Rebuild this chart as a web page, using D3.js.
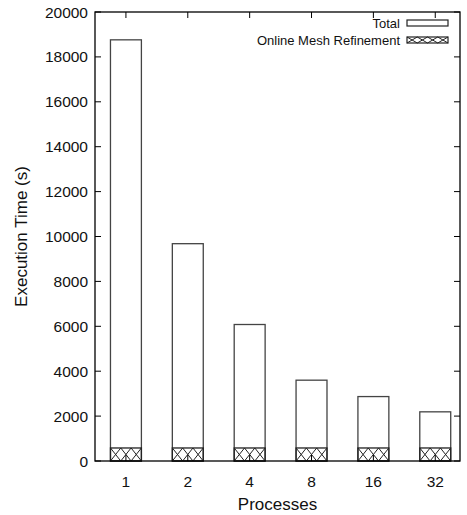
<!DOCTYPE html>
<html>
<head>
<meta charset="utf-8">
<script src="https://cdn.jsdelivr.net/npm/d3@7"></script>
<style>
  body { margin: 0; background: #fff; }
  text { font-family: "Liberation Sans", Arial, sans-serif; fill: #111; }
</style>
</head>
<body>
<div id="chart"></div>
<script>
// data
const processes = ["1", "2", "4", "8", "16", "32"];
const totalTime = [18760, 9680, 6080, 3600, 2870, 2190];
const refineTime = [580, 580, 580, 580, 580, 580];
const yTicks = [0, 2000, 4000, 6000, 8000, 10000, 12000, 14000, 16000, 18000, 20000];

const width = 467, height = 515;
const margin = {left: 95, right: 7, top: 12, bottom: 54};

const svg = d3.select("#chart").append("svg")
  .attr("width", width)
  .attr("height", height);

const x = d3.scaleLinear()
  .domain([-0.5, 5.4])
  .range([margin.left, width - margin.right]);

const y = d3.scaleLinear()
  .domain([0, 20000])
  .range([height - margin.bottom, margin.top]);

const barW = x(0.5) - x(0);
const tickLen = 6;

// bars (total)
svg.selectAll("rect.total")
  .data(totalTime)
  .enter().append("rect")
  .attr("class", "total")
  .attr("x", (d, i) => x(i) - barW / 2)
  .attr("y", d => y(d))
  .attr("width", barW)
  .attr("height", d => y(0) - y(d))
  .attr("fill", "#fff")
  .attr("stroke", "#444")
  .attr("stroke-width", 1.3);

// hatched part: crossing diagonals, 3 cells per bar
function crossPath(x0, y0, w, h, n) {
  const p = d3.path();
  const cw = w / n;
  for (let k = 0; k < n; k++) {
    p.moveTo(x0 + k * cw, y0); p.lineTo(x0 + (k + 1) * cw, y0 + h);
    p.moveTo(x0 + (k + 1) * cw, y0); p.lineTo(x0 + k * cw, y0 + h);
  }
  return p.toString();
}

const hatch = svg.selectAll("g.refine")
  .data(refineTime)
  .enter().append("g")
  .attr("class", "refine");

hatch.append("path")
  .attr("d", (d, i) => crossPath(x(i) - barW / 2, y(d), barW, y(0) - y(d), 3))
  .attr("stroke", "#222")
  .attr("stroke-width", 1)
  .attr("fill", "none");

hatch.append("rect")
  .attr("x", (d, i) => x(i) - barW / 2)
  .attr("y", d => y(d))
  .attr("width", barW)
  .attr("height", d => y(0) - y(d))
  .attr("fill", "none")
  .attr("stroke", "#222")
  .attr("stroke-width", 1.3);

// frame
svg.append("rect")
  .attr("x", x.range()[0])
  .attr("y", y.range()[1])
  .attr("width", x.range()[1] - x.range()[0])
  .attr("height", y.range()[0] - y.range()[1])
  .attr("fill", "none")
  .attr("stroke", "#000")
  .attr("stroke-width", 1.3);

// y ticks, inward on both sides
const ticks = svg.append("g").attr("stroke", "#000").attr("stroke-width", 1);
yTicks.forEach(t => {
  ticks.append("line")
    .attr("x1", x.range()[0]).attr("x2", x.range()[0] + tickLen)
    .attr("y1", y(t)).attr("y2", y(t));
  ticks.append("line")
    .attr("x1", x.range()[1]).attr("x2", x.range()[1] - tickLen)
    .attr("y1", y(t)).attr("y2", y(t));
});
processes.forEach((p, i) => {
  ticks.append("line")
    .attr("x1", x(i)).attr("x2", x(i))
    .attr("y1", y.range()[1]).attr("y2", y.range()[1] + tickLen);
  ticks.append("line")
    .attr("x1", x(i)).attr("x2", x(i))
    .attr("y1", y.range()[0]).attr("y2", y.range()[0] - tickLen);
});

svg.append("g").selectAll("text")
  .data(yTicks)
  .enter().append("text")
  .attr("x", x.range()[0] - 7)
  .attr("y", d => y(d))
  .attr("dy", "0.36em")
  .attr("text-anchor", "end")
  .style("font-size", "15.5px")
  .text(d => d);

svg.append("g").selectAll("text")
  .data(processes)
  .enter().append("text")
  .attr("x", (d, i) => x(i))
  .attr("y", y(0) + 26)
  .attr("text-anchor", "middle")
  .style("font-size", "15.5px")
  .text(d => d);

// axis titles
svg.append("text")
  .attr("x", (x.range()[0] + x.range()[1]) / 2)
  .attr("y", 510)
  .attr("text-anchor", "middle")
  .style("font-size", "17px")
  .text("Processes");

svg.append("text")
  .attr("transform", `translate(27,${(y.range()[0] + y.range()[1]) / 2}) rotate(-90)`)
  .attr("text-anchor", "middle")
  .style("font-size", "17px")
  .text("Execution Time (s)");

// legend
const legend = [
  {label: "Total", hatched: false, ty: 23},
  {label: "Online Mesh Refinement", hatched: true, ty: 40}
];
const lx = 407, lw = 41, lh = 6;
legend.forEach(l => {
  svg.append("text")
    .attr("x", lx - 7)
    .attr("y", l.ty)
    .attr("dy", "0.35em")
    .attr("text-anchor", "end")
    .style("font-size", "13px")
    .text(l.label);
  if (l.hatched) {
    svg.append("path")
      .attr("d", crossPath(lx, l.ty - lh / 2, lw, lh, 4))
      .attr("stroke", "#222")
      .attr("fill", "none");
  }
  svg.append("rect")
    .attr("x", lx).attr("y", l.ty - lh / 2)
    .attr("width", lw).attr("height", lh)
    .attr("fill", "none")
    .attr("stroke", "#222")
    .attr("stroke-width", 1.2);
});
</script>
</body>
</html>
